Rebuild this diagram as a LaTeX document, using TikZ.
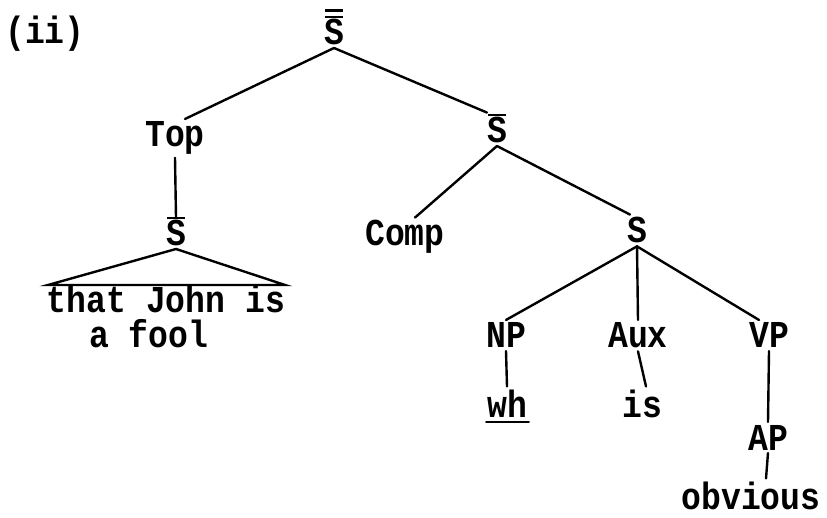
\documentclass[tikz,border=0pt]{standalone}
\usepackage{fontspec}
\setmainfont{Liberation Mono}[FakeStretch=0.87]
\newcommand\myS{\ooalign{S\cr\hidewidth\smash{\rule[0.7em]{0.45em}{2.2pt}}\hidewidth\cr}}
\newcommand\myShh{\ooalign{S\cr\hidewidth\smash{\rule[0.7em]{0.45em}{2.2pt}}\hidewidth\cr\hidewidth\smash{\rule[0.88em]{0.45em}{2.2pt}}\hidewidth\cr}}
\begin{document}
\begin{tikzpicture}[x=1pt,y=-1pt,
  lab/.style={anchor=base,inner sep=0pt,outer sep=3pt,font=\bfseries\fontsize{38}{40}\selectfont},
  edge/.style={line width=2.4pt,line cap=round}]
\useasboundingbox (0,0) rectangle (827,518);
\node[lab] (num) at (45,44) {(ii)};
\node[lab] (root) at (334,45) {\myShh};
\node[lab] (top) at (175,147) {Top};
\node[lab] (sb1) at (176,246) {\myS};
\node[lab] (sb2) at (497,143) {\myS};
\node[lab] (comp) at (405,246) {Comp};
\node[lab] (s) at (637,243) {S};
\node[lab] (np) at (506,348) {NP};
\node[lab] (aux) at (638,348) {Aux};
\node[lab] (vp) at (769,348) {VP};
\node[lab] (wh) at (507,417) {wh};
\node[lab] (is) at (642,417) {is};
\node[lab] (ap) at (768,450) {AP};
\node[lab] (obv) at (751,509) {obvious};
\node[lab] (tj) at (166,313) {that John is};
\node[lab,anchor=base west] (af) at (86,348) {a fool};
\coordinate (tl) at (48,285);
\coordinate (tr) at (285,285);
\draw[edge] (tl) -- (sb1.south) -- (tr) -- cycle;
\draw[edge] ([xshift=2pt,yshift=-5pt]wh.base west) -- ([xshift=-1pt,yshift=-5pt]wh.base east);
\draw[edge] (root.south) -- ([xshift=10pt]top.north);
\draw[edge] (root.south) -- ([xshift=-10pt,yshift=2pt]sb2.north);
\draw[edge] (top.south) -- (sb1.north);
\draw[edge] (sb2.south) -- ([xshift=10pt]comp.north);
\draw[edge] (sb2.south) -- ([xshift=-7pt]s.north);
\draw[edge] (s.south) -- (np.north);
\draw[edge] (s.south) -- (aux.north);
\draw[edge] (s.south) -- ([xshift=-10pt]vp.north);
\draw[edge] (np.south) -- (wh.north);
\draw[edge] (aux.south) -- ([xshift=4pt]is.north);
\draw[edge] (vp.south) -- (ap.north);
\draw[edge] (ap.south) -- ([xshift=15pt]obv.north);
\end{tikzpicture}
\end{document}
